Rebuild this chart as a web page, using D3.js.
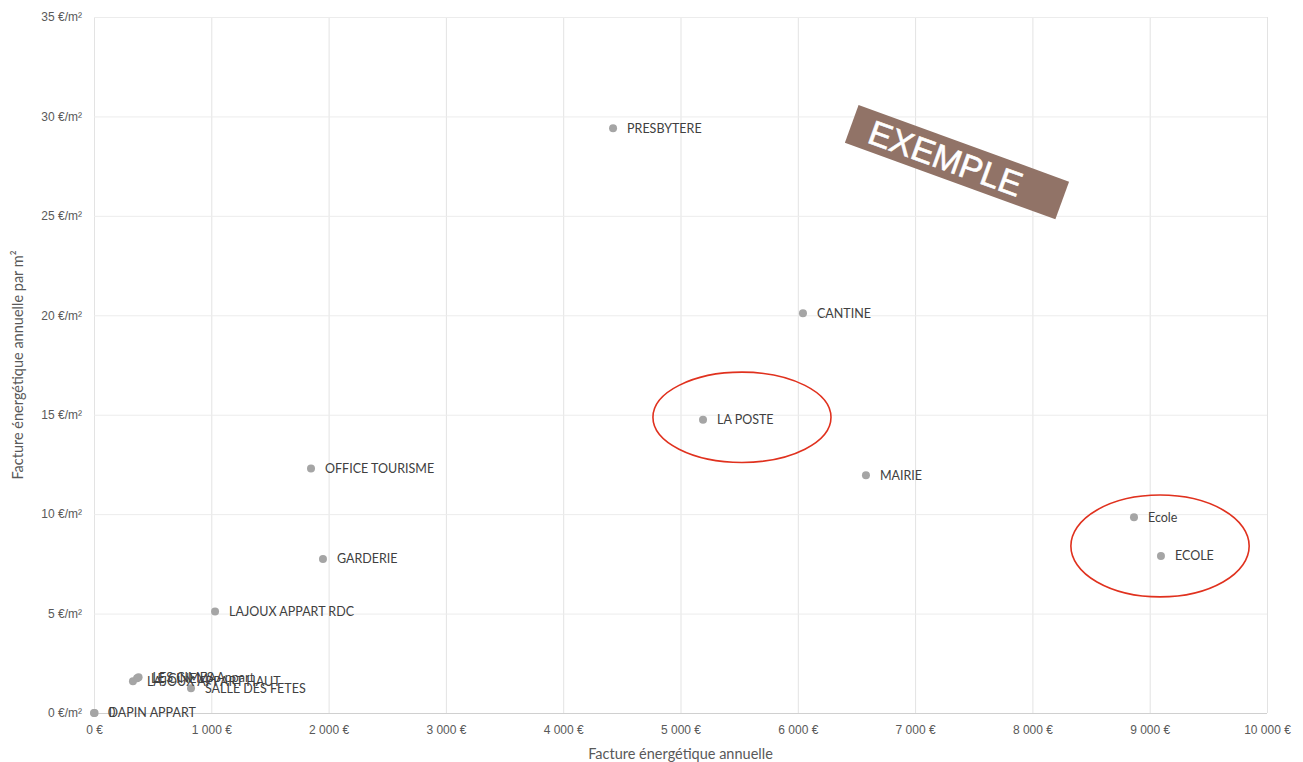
<!DOCTYPE html>
<html>
<head>
<meta charset="utf-8">
<script src="https://cdn.jsdelivr.net/npm/d3@7"></script>
<style>
  body { margin: 0; background: #fff; }
  svg { display: block; font-family: Lato, "Open Sans", sans-serif; }
</style>
</head>
<body>
<svg id="chart" width="1303" height="762"></svg>
<script>
// building names and their values (annual bill in €, bill per m² in €/m²)
const names = ['PRESBYTERE', 'CANTINE', 'LA POSTE', 'MAIRIE', 'Ecole', 'ECOLE',
  'OFFICE TOURISME', 'GARDERIE', 'LAJOUX APPART RDC', 'LAJOUX APPART HAUT',
  'LE CINEMA', 'LES CIMES Appart', 'SALLE DES FETES', '0', 'DAPIN APPART'];
const factures = [4425, 6044, 5192, 6581, 8866, 9096, 1850, 1952, 1032, 332, 367, 380, 827, 0, 5];
const parM2 = [29.4, 20.1, 14.75, 11.95, 9.85, 7.9, 12.3, 7.75, 5.1, 1.6, 1.75, 1.8, 1.25, 0, 0];

const xTicks = [0, 1000, 2000, 3000, 4000, 5000, 6000, 7000, 8000, 9000, 10000];
const yTicks = [0, 5, 10, 15, 20, 25, 30, 35];

// highlighted groups (centre x, centre y, half width in €, half height in €/m²)
const circledX = [5524, 9088];
const circledY = [14.87, 8.4];
const circledRx = [759, 760];
const circledRy = [2.27, 2.56];

const stampText = 'EXEMPLE';
const stampPos = [7357, 27.7];

const svg = d3.select('#chart');
const mLeft = 94, mRight = 1267, mTop = 17, mBottom = 713;

const x = d3.scaleLinear().domain([0, 10000]).range([mLeft, mRight]);
const y = d3.scaleLinear().domain([0, 35]).range([mBottom, mTop]);

const fr = d3.formatLocale({ decimal: ',', thousands: '\u00a0', grouping: [3], currency: ['', '\u00a0€'] });
const fmtEuro = fr.format(',.0f');

// grid
svg.append('g')
  .attr('transform', `translate(0,${mBottom})`)
  .call(d3.axisBottom(x).tickValues(xTicks).tickSize(-(mBottom - mTop)).tickFormat(''))
  .call(g => g.select('.domain').remove())
  .call(g => g.selectAll('line').attr('stroke', '#e3e3e3'));

svg.append('g')
  .attr('transform', `translate(${mLeft},0)`)
  .call(d3.axisLeft(y).tickValues(yTicks).tickSize(-(mRight - mLeft)).tickFormat(''))
  .call(g => g.select('.domain').remove())
  .call(g => g.selectAll('line').attr('stroke', d => d === 0 ? '#d0d0d0' : '#ececec'));

// tick labels
svg.append('g')
  .attr('transform', `translate(0,${mBottom})`)
  .call(d3.axisBottom(x).tickValues(xTicks).tickSize(0).tickPadding(12).tickFormat(d => fmtEuro(d) + '\u00a0€'))
  .call(g => g.select('.domain').remove())
  .call(g => g.selectAll('text').attr('fill', '#595959').style('font-size', '12px'));

svg.append('g')
  .attr('transform', `translate(${mLeft},0)`)
  .call(d3.axisLeft(y).tickValues(yTicks).tickSize(0).tickPadding(12).tickFormat(d => d + '\u00a0€/m²'))
  .call(g => g.select('.domain').remove())
  .call(g => g.selectAll('text').attr('fill', '#595959').style('font-size', '12px'));

// axis titles
svg.append('text')
  .attr('x', (mLeft + mRight) / 2)
  .attr('y', 759)
  .attr('text-anchor', 'middle')
  .attr('fill', '#595959')
  .style('font-size', '14.5px')
  .text('Facture énergétique annuelle');

svg.append('text')
  .attr('transform', `translate(23,${(mTop + mBottom) / 2}) rotate(-90)`)
  .attr('text-anchor', 'middle')
  .attr('fill', '#595959')
  .style('font-size', '14.5px')
  .text('Facture énergétique annuelle par m²');

// points
const points = names.map((n, i) => ({ name: n, fx: factures[i], fy: parM2[i] }));

svg.append('g')
  .selectAll('circle')
  .data(points)
  .enter()
  .append('circle')
  .attr('cx', d => x(d.fx))
  .attr('cy', d => y(d.fy))
  .attr('r', 4)
  .attr('fill', '#a5a5a5');

svg.append('g')
  .selectAll('text')
  .data(points)
  .enter()
  .append('text')
  .attr('x', d => x(d.fx) + 14)
  .attr('y', d => y(d.fy))
  .attr('dy', '0.35em')
  .attr('fill', '#404040')
  .style('font-size', '12.5px')
  .text(d => d.name);

// red ellipses
svg.append('g')
  .selectAll('ellipse')
  .data(circledX.map((cx, i) => ({ cx, cy: circledY[i], rx: circledRx[i], ry: circledRy[i] })))
  .enter()
  .append('ellipse')
  .attr('cx', d => x(d.cx))
  .attr('cy', d => y(d.cy))
  .attr('rx', d => x(d.rx) - x(0))
  .attr('ry', d => y(0) - y(d.ry))
  .attr('fill', 'none')
  .attr('stroke', '#e0311e')
  .attr('stroke-width', 1.6);

// stamp
const stamp = svg.append('g')
  .attr('transform', `translate(${x(stampPos[0])},${y(stampPos[1])}) rotate(20)`);
stamp.append('rect')
  .attr('x', -112).attr('y', -20)
  .attr('width', 224).attr('height', 40)
  .attr('fill', '#917367');
stamp.append('text')
  .attr('x', -12)
  .attr('dy', '0.36em')
  .attr('text-anchor', 'middle')
  .attr('fill', '#fff')
  .attr('stroke', '#fff')
  .attr('stroke-width', 0.6)
  .style('font-family', '"Liberation Sans", Arial, sans-serif')
  .style('font-size', '34px')
  .text(stampText);
</script>
</body>
</html>
